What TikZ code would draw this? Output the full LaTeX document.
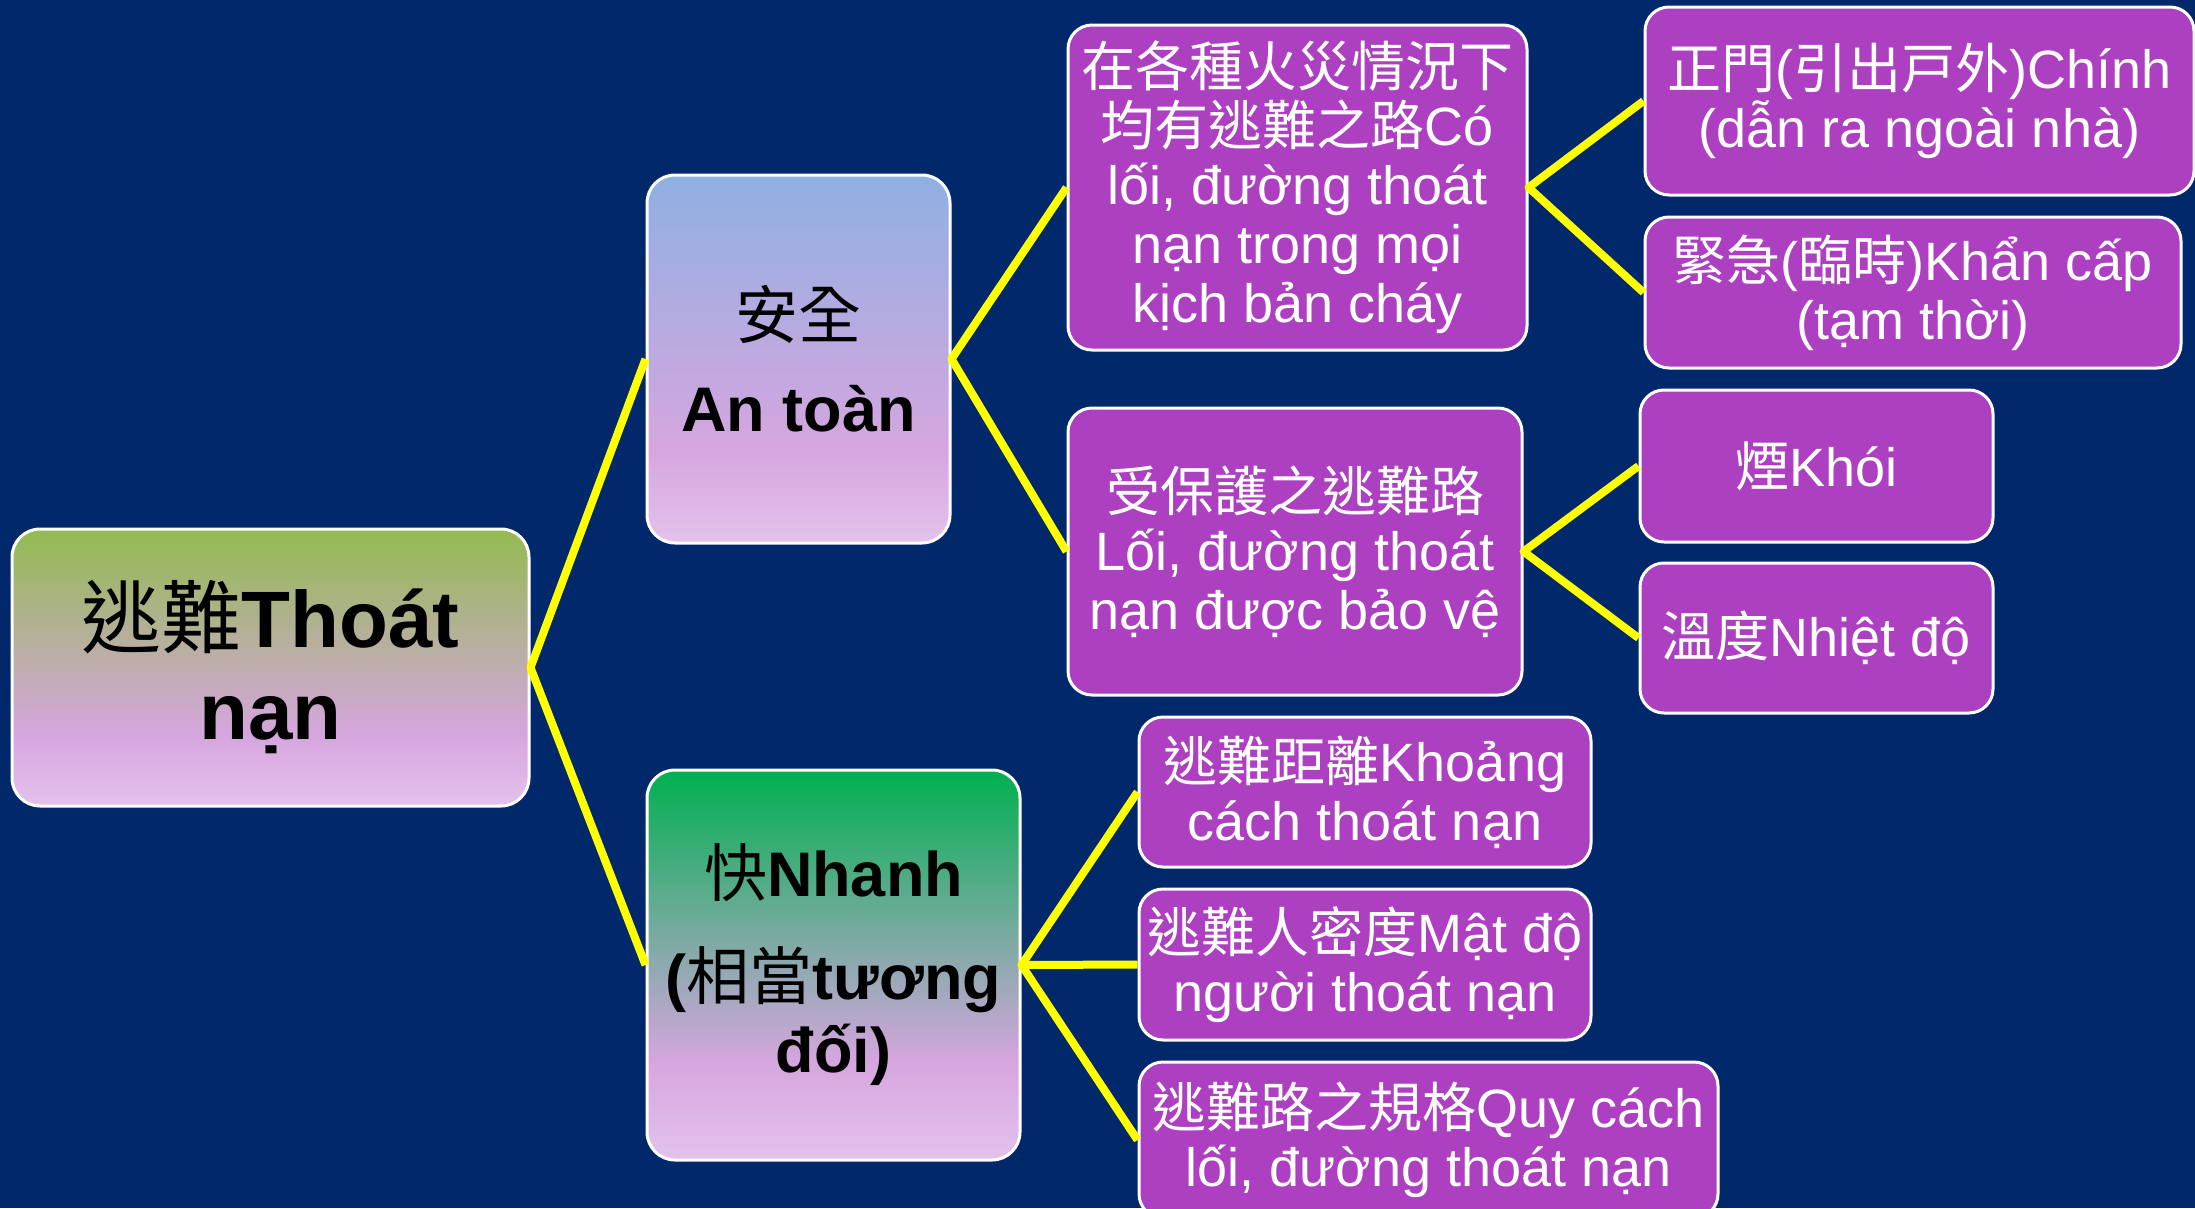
\documentclass[tikz,border=0pt]{standalone}
\usepackage{fontspec}
\setmainfont{Liberation Sans}
\newfontfamily\cjkfont{Noto Sans CJK TC}
\newcommand{\zh}[1]{{\cjkfont\mdseries #1}}
\definecolor{bgnavy}{RGB}{0,40,106}
\definecolor{boxpurple}{RGB}{172,64,192}
\definecolor{lineyellow}{RGB}{255,255,0}
\definecolor{gbot}{RGB}{228,194,236}
\definecolor{gpink}{RGB}{214,166,223}
\definecolor{ggreen}{RGB}{146,187,80}
\definecolor{gblue}{RGB}{143,176,226}
\definecolor{gemerald}{RGB}{0,176,80}
\pgfdeclareverticalshading{rootshade}{100bp}{color(0bp)=(gbot); color(25bp)=(gbot); color(37.5bp)=(gpink); color(75bp)=(ggreen); color(100bp)=(ggreen)}
\pgfdeclareverticalshading{safeshade}{100bp}{color(0bp)=(gbot); color(25bp)=(gbot); color(37.5bp)=(gpink); color(75bp)=(gblue); color(100bp)=(gblue)}
\pgfdeclareverticalshading{fastshade}{100bp}{color(0bp)=(gbot); color(25bp)=(gbot); color(37.5bp)=(gpink); color(75bp)=(gemerald); color(100bp)=(gemerald)}
\tikzset{
  gradbox/.style={draw=white, line width=3pt, rounded corners=28pt, text=black, align=center, inner sep=0pt, shade},
  purplebox/.style={draw=white, line width=3pt, rounded corners=24pt, fill=boxpurple, text=white, align=center, inner sep=0pt,
    font=\fontsize{54}{59}\selectfont},
  conn/.style={draw=lineyellow, line width=8pt, line join=round}
}
\begin{document}
\lineskiplimit=-100pt\relax
\begin{tikzpicture}[x=1pt,y=-1pt]
\fill[bgnavy] (0,0) rectangle (2195,1208);
\useasboundingbox (0,0) rectangle (2195,1208);

\node[gradbox, shading=rootshade, minimum width=517pt, minimum height=277pt,
  font=\fontsize{80}{92}\selectfont\bfseries] (root) at (270.5,667.5) {\zh{逃難}Thoát\\nạn};
\node[gradbox, shading=safeshade, minimum width=303pt, minimum height=368pt,
  font=\fontsize{63}{73}\selectfont\bfseries] (safe) at (798.5,359) {\zh{安全}\\[20pt]An toàn};
\node[gradbox, shading=fastshade, minimum width=373pt, minimum height=390pt,
  font=\fontsize{63}{73}\selectfont\bfseries] (fast) at (833.5,965) {\zh{快}Nhanh\\[30pt](\zh{相當}tương\\đối)};

\node[purplebox, minimum width=459pt, minimum height=325pt] (a1) at (1297.5,187.5)
  {\zh{在各種火災情況下}\\\zh{均有逃難之路}Có\\lối, đường thoát\\nạn trong mọi\\kịch bản cháy};
\node[purplebox, minimum width=454pt, minimum height=287pt] (a2) at (1295,551.5)
  {\zh{受保護之逃難路}\\Lối, đường thoát\\nạn được bảo vệ};
\node[purplebox, minimum width=549pt, minimum height=188pt] (b1) at (1919.5,101)
  {\zh{正門}(\zh{引出戸外})Chính\\(dẫn ra ngoài nhà)};
\node[purplebox, minimum width=536pt, minimum height=151pt] (b2) at (1913,292.5)
  {\zh{緊急}(\zh{臨時})Khẩn cấp\\(tạm thời)};
\node[purplebox, minimum width=353pt, minimum height=152pt] (c1) at (1816.5,466)
  {\zh{煙}Khói};
\node[purplebox, minimum width=353pt, minimum height=150pt] (c2) at (1816.5,638)
  {\zh{溫度}Nhiệt độ};
\node[purplebox, minimum width=452pt, minimum height=150pt] (d1) at (1365,792)
  {\zh{逃難距離}Khoảng\\cách thoát nạn};
\node[purplebox, minimum width=452pt, minimum height=151pt] (d2) at (1365,964.5)
  {\zh{逃難人密度}Mật độ\\người thoát nạn};
\node[purplebox, minimum width=579pt, minimum height=156pt] (d3) at (1428.5,1140)
  {\zh{逃難路之規格}Quy cách\\lối, đường thoát nạn};

\draw[conn] (safe.west) -- (root.east) -- (fast.west);
\draw[conn] (a1.west) -- (safe.east) -- (a2.west);
\draw[conn] (b1.west) -- (a1.east) -- (b2.west);
\draw[conn] (c1.west) -- (a2.east) -- (c2.west);
\draw[conn] (d1.west) -- (fast.east) -- (d3.west);
\draw[conn] (fast.east) -- (d2.west);
\end{tikzpicture}
\end{document}
